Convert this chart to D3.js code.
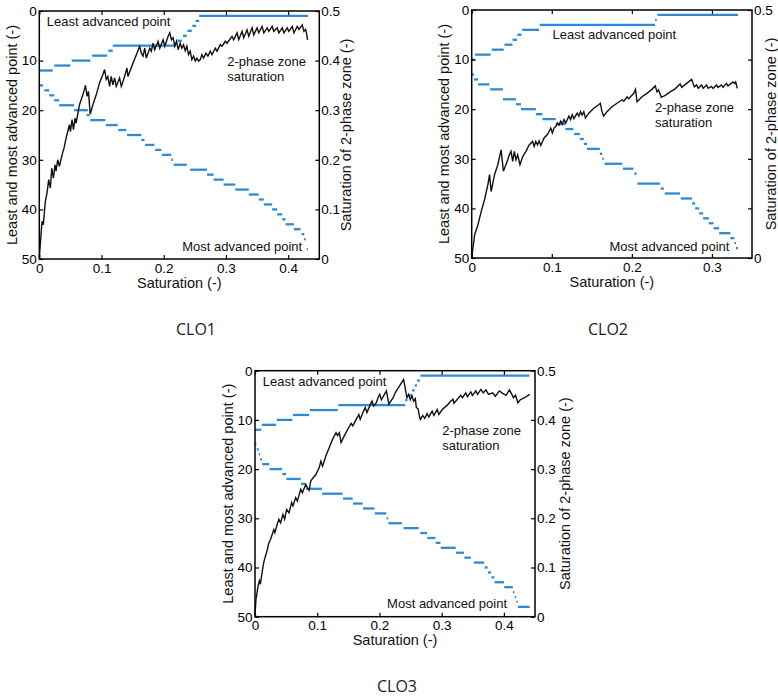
<!DOCTYPE html>
<html>
<head>
<meta charset="utf-8">
<script src="https://cdn.jsdelivr.net/npm/d3@7"></script>
<style>
html,body{margin:0;padding:0;background:#fff;}
svg{display:block;}
</style>
</head>
<body>
<svg id="chart" width="778" height="696"></svg>
<script>
// ---------------- DATA ----------------
const leftTicks = [0, 10, 20, 30, 40, 50];
const rightTicks = [0, 0.1, 0.2, 0.3, 0.4, 0.5];
const xTicksWide = [0, 0.1, 0.2, 0.3, 0.4];
const xTicksNarrow = [0, 0.1, 0.2, 0.3];
const captions = ["CLO1", "CLO2", "CLO3"];

// step segments: [level, saturation start, saturation end]
const clo1Least = [[12,0,0.0216],[11,0.024,0.05],[10,0.052,0.082],[9,0.085,0.109],[8,0.111,0.118],[7,0.118,0.219],
  [6,0.222,0.229],[5,0.231,0.237],[4,0.238,0.245],[3,0.246,0.252],[2,0.251,0.257],[1,0.257,0.432]];
const clo1Most = [[15,0,0.006],[16,0.008,0.016],[17,0.016,0.024],[18,0.024,0.032],[19,0.032,0.056],[20,0.056,0.078],
  [21,0.076,0.081],[22,0.082,0.106],[23,0.107,0.126],[24,0.127,0.14],[25,0.141,0.164],[26,0.164,0.169],[27,0.17,0.185],
  [28,0.186,0.196],[29,0.197,0.212],[30,0.212,0.215],[31,0.216,0.237],[32,0.2425,0.2694],[33,0.2694,0.2801],
  [34,0.2801,0.2962],[35,0.2962,0.3151],[36,0.3151,0.3366],[37,0.3366,0.3527],[38,0.3527,0.3608],[39,0.3608,0.3742],
  [40,0.3742,0.3823],[41,0.3823,0.3904],[42,0.3904,0.3958],[43,0.3958,0.4092],[44,0.4092,0.42],[45,0.4215,0.4258],
  [46,0.4253,0.428],[48,0.4296,0.4317]];
// [saturation, saturation of 2-phase zone]
const clo1Zone = [[0,0.003],[0.0044,0.076],[0.0065,0.069],[0.0097,0.116],[0.0124,0.133],[0.0151,0.160],[0.0178,0.143],
  [0.020,0.183],[0.0226,0.163],[0.0253,0.190],[0.0269,0.177],[0.0296,0.200],[0.0323,0.187],[0.0366,0.210],[0.0398,0.224],
  [0.0431,0.244],[0.0484,0.271],[0.050,0.257],[0.0527,0.281],[0.0549,0.261],[0.0576,0.284],[0.0592,0.274],[0.0646,0.311],
  [0.070,0.331],[0.0742,0.350],[0.0769,0.328],[0.079,0.338],[0.0818,0.292],[0.0861,0.311],[0.0915,0.331],[0.0968,0.355],
  [0.1022,0.372],[0.1049,0.382],[0.1076,0.362],[0.1102,0.368],[0.113,0.348],[0.1156,0.368],[0.1183,0.351],[0.121,0.365],
  [0.1237,0.348],[0.129,0.365],[0.1318,0.348],[0.1371,0.368],[0.1409,0.385],[0.1425,0.368],[0.1506,0.395],[0.156,0.412],
  [0.1613,0.429],[0.164,0.415],[0.1667,0.409],[0.1694,0.425],[0.172,0.405],[0.1775,0.425],[0.180,0.419],[0.1829,0.435],
  [0.1855,0.422],[0.1909,0.439],[0.1936,0.425],[0.199,0.442],[0.2017,0.429],[0.207,0.449],[0.2097,0.456],[0.2124,0.442],
  [0.2151,0.446],[0.2178,0.429],[0.2205,0.439],[0.2232,0.422],[0.2264,0.435],[0.2291,0.425],[0.2318,0.432],[0.2345,0.42],
  [0.2371,0.429],[0.2398,0.412],[0.2425,0.419],[0.2452,0.402],[0.2479,0.409],[0.2506,0.399],[0.2533,0.405],[0.256,0.399],
  [0.2587,0.402],[0.2613,0.412],[0.264,0.405],[0.2678,0.415],[0.271,0.409],[0.2748,0.419],[0.2775,0.412],[0.2829,0.425],
  [0.2855,0.419],[0.2909,0.432],[0.2936,0.429],[0.299,0.439],[0.3017,0.435],[0.3097,0.449],[0.3124,0.442],[0.3178,0.456],
  [0.3205,0.442],[0.3259,0.459],[0.3285,0.446],[0.3339,0.462],[0.3366,0.449],[0.342,0.466],[0.3447,0.452],[0.35,0.466],
  [0.3527,0.456],[0.3581,0.469],[0.3608,0.456],[0.3662,0.466],[0.3689,0.459],[0.3742,0.469],[0.3769,0.459],[0.3823,0.466],
  [0.385,0.456],[0.3904,0.466],[0.3931,0.456],[0.3984,0.466],[0.4011,0.459],[0.4065,0.469],[0.4092,0.456],[0.4146,0.469],
  [0.4173,0.463],[0.4226,0.472],[0.4253,0.459],[0.428,0.463],[0.4296,0.454],[0.4312,0.442]];

const clo2Least = [[10,0,0.0037],[9,0.004,0.0235],[8,0.025,0.040],[7,0.041,0.051],[6,0.051,0.0566],[5,0.057,0.0623],
  [4,0.063,0.084],[3,0.085,0.229],[2,0.229,0.231],[1,0.232,0.3325]];
const clo2Most = [[13,0,0.003],[14,0.003,0.008],[15,0.008,0.022],[16,0.023,0.039],[18,0.039,0.0553],[19,0.0553,0.0615],
  [20,0.0615,0.0801],[21,0.0801,0.0884],[22,0.0884,0.105],[23,0.105,0.117],[24,0.117,0.127],[25,0.128,0.135],
  [26,0.135,0.14],[27,0.14,0.144],[28,0.144,0.16],[29,0.16,0.163],[30,0.163,0.165],[31,0.166,0.188],[32,0.189,0.202],
  [33,0.203,0.206],[35,0.207,0.235],[36,0.236,0.24],[37,0.241,0.26],[38,0.261,0.275],[39,0.275,0.279],[40,0.279,0.284],
  [41,0.284,0.289],[42,0.289,0.296],[43,0.296,0.302],[44,0.302,0.309],[45,0.309,0.323],[46,0.323,0.328],[47,0.328,0.330],
  [48,0.330,0.3325]];
const clo2Zone = [[0,0.001],[0.0037,0.047],[0.0078,0.067],[0.0119,0.094],[0.0161,0.118],[0.0202,0.148],[0.0223,0.168],
  [0.0243,0.134],[0.0285,0.168],[0.0326,0.188],[0.0367,0.218],[0.0396,0.175],[0.045,0.198],[0.047,0.208],[0.0491,0.215],
  [0.0512,0.195],[0.0532,0.215],[0.0553,0.198],[0.0574,0.208],[0.0603,0.188],[0.0636,0.204],[0.0677,0.215],[0.0718,0.228],
  [0.076,0.235],[0.078,0.225],[0.080,0.235],[0.0822,0.228],[0.0842,0.236],[0.0863,0.227],[0.0904,0.242],[0.0945,0.249],
  [0.0966,0.255],[0.0987,0.262],[0.1007,0.252],[0.1028,0.262],[0.1049,0.265],[0.1069,0.272],[0.109,0.268],[0.1111,0.276],
  [0.1131,0.27],[0.1152,0.279],[0.1173,0.272],[0.1214,0.286],[0.1235,0.279],[0.1255,0.289],[0.1276,0.281],[0.1317,0.292],
  [0.1338,0.286],[0.1359,0.295],[0.1379,0.288],[0.14,0.295],[0.142,0.282],[0.1462,0.292],[0.1524,0.302],[0.1586,0.309],
  [0.1606,0.312],[0.1627,0.295],[0.1648,0.286],[0.1689,0.295],[0.1751,0.305],[0.1879,0.319],[0.19,0.316],[0.194,0.325],
  [0.196,0.321],[0.2024,0.332],[0.2045,0.34],[0.2065,0.315],[0.2126,0.325],[0.2188,0.332],[0.225,0.34],[0.2292,0.347],
  [0.2313,0.335],[0.2333,0.339],[0.2367,0.324],[0.2416,0.328],[0.2478,0.335],[0.254,0.341],[0.2602,0.351],[0.2623,0.344],
  [0.2684,0.352],[0.2746,0.36],[0.278,0.345],[0.2808,0.349],[0.2829,0.342],[0.287,0.349],[0.2891,0.342],[0.2932,0.349],
  [0.2953,0.342],[0.2994,0.346],[0.3014,0.342],[0.3056,0.349],[0.3076,0.344],[0.3118,0.349],[0.3139,0.344],[0.318,0.352],
  [0.3201,0.347],[0.3263,0.355],[0.3283,0.352],[0.3296,0.355],[0.3316,0.342]];

const clo3Least = [[12,0,0.010],[11,0.011,0.034],[10,0.035,0.06],[9,0.061,0.087],[8,0.088,0.133],[7,0.134,0.2415],
  [6,0.2415,0.245],[5,0.246,0.2523],[4,0.2525,0.2566],[3,0.2568,0.2604],[2,0.2606,0.265],[1,0.266,0.441]];
const clo3Most = [[15,0,0.0022],[16,0.0027,0.0059],[17,0.006,0.0081],[18,0.0083,0.0113],[19,0.0115,0.023],
  [20,0.0235,0.0435],[21,0.044,0.05],[22,0.0505,0.0735],[23,0.074,0.0816],[24,0.082,0.1075],[25,0.108,0.141],
  [26,0.1415,0.157],[27,0.1575,0.173],[28,0.1735,0.192],[29,0.1925,0.211],[30,0.2115,0.214],[31,0.2145,0.236],
  [32,0.2388,0.2631],[33,0.2658,0.2766],[34,0.277,0.29],[35,0.2905,0.298],[36,0.2985,0.3225],[37,0.323,0.336],
  [38,0.3365,0.347],[39,0.352,0.3685],[40,0.369,0.374],[41,0.3745,0.3793],[42,0.38,0.3847],[43,0.385,0.4],
  [44,0.4005,0.4144],[45,0.4145,0.417],[46,0.4175,0.4198],[47,0.42,0.422],[48,0.4225,0.4414]];
const clo3Zone = [[0,0.005],[0.0016,0.035],[0.0049,0.062],[0.007,0.073],[0.0086,0.066],[0.0113,0.089],[0.014,0.110],
  [0.0167,0.123],[0.0194,0.134],[0.0222,0.150],[0.0249,0.157],[0.0276,0.167],[0.0303,0.177],[0.0319,0.171],[0.0357,0.188],
  [0.0384,0.198],[0.0411,0.191],[0.0449,0.208],[0.0476,0.198],[0.0508,0.218],[0.0546,0.211],[0.0589,0.232],[0.061,0.225],
  [0.0654,0.242],[0.0681,0.235],[0.0735,0.259],[0.0762,0.252],[0.0816,0.269],[0.0843,0.262],[0.087,0.257],[0.0897,0.276],
  [0.0978,0.289],[0.1032,0.303],[0.1059,0.316],[0.1086,0.306],[0.114,0.327],[0.1194,0.344],[0.1248,0.361],[0.1302,0.374],
  [0.1329,0.368],[0.1356,0.374],[0.1383,0.354],[0.1437,0.368],[0.1491,0.381],[0.1545,0.393],[0.1572,0.388],[0.1626,0.401],
  [0.1669,0.411],[0.1691,0.401],[0.1734,0.415],[0.1772,0.425],[0.1799,0.415],[0.1842,0.428],[0.188,0.438],[0.1907,0.428],
  [0.195,0.435],[0.1977,0.445],[0.2004,0.452],[0.2031,0.441],[0.2112,0.459],[0.2151,0.432],[0.2221,0.445],[0.2253,0.455],
  [0.2388,0.4825],[0.2442,0.445],[0.2469,0.452],[0.2496,0.441],[0.2523,0.449],[0.255,0.438],[0.2577,0.443],[0.2593,0.425],
  [0.262,0.423],[0.2642,0.408],[0.2658,0.401],[0.2696,0.409],[0.2728,0.403],[0.2766,0.413],[0.2793,0.406],[0.2847,0.418],
  [0.2874,0.409],[0.2928,0.421],[0.2955,0.411],[0.3009,0.421],[0.309,0.430],[0.3144,0.438],[0.3182,0.442],[0.3198,0.434],
  [0.3252,0.442],[0.3306,0.450],[0.3333,0.445],[0.3387,0.455],[0.3414,0.447],[0.3468,0.457],[0.3495,0.450],[0.3549,0.459],
  [0.3576,0.452],[0.363,0.462],[0.3668,0.455],[0.3711,0.461],[0.3754,0.452],[0.3819,0.455],[0.3862,0.448],[0.3927,0.459],
  [0.3981,0.454],[0.4035,0.450],[0.4089,0.461],[0.4116,0.455],[0.4154,0.445],[0.4187,0.450],[0.4225,0.435],[0.4263,0.441],
  [0.4333,0.445],[0.4414,0.452]];

// ---------------- LAYOUT ----------------
const panels = [
  {cap: captions[0], least: clo1Least, most: clo1Most, zone: clo1Zone, xMax: 0.45, xTicks: xTicksWide,
   left: 39.3, top: 11, w: 280, h: 248, capX: 196, capY: 335, rLabels: true, rTitleDx: 32,
   lab: {least:[0.012,3.0], zone:[0.302,11.1], most:[0.2297,48.4]}},
  {cap: captions[1], least: clo2Least, most: clo2Most, zone: clo2Zone, xMax: 0.35, xTicks: xTicksNarrow,
   left: 471.7, top: 10, w: 280.3, h: 248, capX: 608, capY: 335, rLabels: false, rTitleDx: 23.5,
   lab: {least:[0.101,5.85], zone:[0.229,20.5], most:[0.172,48.6]}},
  {cap: captions[2], least: clo3Least, most: clo3Most, zone: clo3Zone, xMax: 0.45, xTicks: xTicksWide,
   left: 255, top: 370.7, w: 280, h: 246, capX: 397, capY: 692, rLabels: true, rTitleDx: 35,
   lab: {least:[0.0125,3.05], zone:[0.301,13.07], most:[0.2123,48.2]}}
];

const BLUE = "#2f8ad5";
const FONT = "'Liberation Sans', Arial, Helvetica, sans-serif";
const svg = d3.select("#chart");
svg.append("rect").attr("width", 778).attr("height", 696).attr("fill", "#fff");

const fmtX = d => d === 0 ? "0" : d3.format(".1f")(d);

panels.forEach(p => {
  const g = svg.append("g").attr("transform", `translate(${p.left},${p.top})`);
  const x = d3.scaleLinear().domain([0, p.xMax]).range([0, p.w]);
  const yL = d3.scaleLinear().domain([0, 50]).range([0, p.h]);
  const yR = d3.scaleLinear().domain([0, 0.5]).range([p.h, 0]);

  // step series
  const seg = (data) => g.append("g").selectAll("line").data(data).join("line")
    .attr("x1", d => x(d[1])).attr("x2", d => x(d[2]))
    .attr("y1", d => yL(d[0])).attr("y2", d => yL(d[0]))
    .attr("stroke", BLUE).attr("stroke-width", 2.3);
  seg(p.least);
  seg(p.most);

  // 2-phase zone saturation
  g.append("path").datum(p.zone)
    .attr("d", d3.line().x(d => x(d[0])).y(d => yR(d[1])))
    .attr("fill", "none").attr("stroke", "#111").attr("stroke-width", 1.4)
    .attr("stroke-linejoin", "miter");

  // axes
  const styleAxis = sel => {
    sel.select(".domain").remove();
    sel.selectAll("line").attr("stroke", "#000").attr("stroke-width", 1.2);
    sel.selectAll("text").attr("font-family", FONT).attr("font-size", 13.5).attr("fill", "#000");
  };
  g.append("g").attr("transform", `translate(0,${p.h})`)
    .call(d3.axisBottom(x).tickValues(p.xTicks).tickSize(-4).tickPadding(4).tickFormat(fmtX)).call(styleAxis);
  g.append("g")
    .call(d3.axisTop(x).tickValues(p.xTicks).tickSize(-4).tickFormat("")).call(styleAxis);
  g.append("g")
    .call(d3.axisLeft(yL).tickValues(leftTicks).tickSize(-4).tickPadding(2.5)).call(styleAxis);
  g.append("g").attr("transform", `translate(${p.w},0)`)
    .call(d3.axisRight(yR).tickValues(rightTicks).tickSize(-4).tickPadding(2)
      .tickFormat(d => (p.rLabels || d === 0 || d === 0.5) ? fmtX(d) : "")).call(styleAxis);

  // frame
  g.append("rect").attr("width", p.w).attr("height", p.h)
    .attr("fill", "none").attr("stroke", "#000").attr("stroke-width", 1.5);

  // annotations
  const txt = (s, xx, yy, size) => g.append("text").attr("x", xx).attr("y", yy)
    .attr("font-family", FONT).attr("font-size", size).attr("fill", "#111").text(s);
  txt("Least advanced point", x(p.lab.least[0]), yL(p.lab.least[1]), 13);
  txt("2-phase zone", x(p.lab.zone[0]), yL(p.lab.zone[1]), 13);
  txt("saturation", x(p.lab.zone[0]), yL(p.lab.zone[1]) + 15.3, 13);
  txt("Most advanced point", x(p.lab.most[0]), yL(p.lab.most[1]), 13);

  // axis titles
  g.append("text").attr("x", p.w / 2).attr("y", p.h + 28.5).attr("text-anchor", "middle")
    .attr("font-family", FONT).attr("font-size", 14.5).attr("fill", "#111").text("Saturation (-)");
  g.append("text").attr("transform", `translate(-22.5,${p.h / 2}) rotate(-90)`).attr("text-anchor", "middle")
    .attr("font-family", FONT).attr("font-size", 14.5).attr("fill", "#111").text("Least and most advanced point (-)");
  g.append("text").attr("transform", `translate(${p.w + p.rTitleDx},${p.h / 2}) rotate(-90)`).attr("text-anchor", "middle")
    .attr("font-family", FONT).attr("font-size", 14.5).attr("fill", "#111").text("Saturation of 2-phase zone (-)");

  // caption
  svg.append("text").attr("x", p.capX).attr("y", p.capY).attr("text-anchor", "middle")
    .attr("font-family", "'Open Sans', 'Noto Sans', sans-serif").attr("font-size", 16).attr("fill", "#222").text(p.cap);
});
</script>
</body>
</html>
